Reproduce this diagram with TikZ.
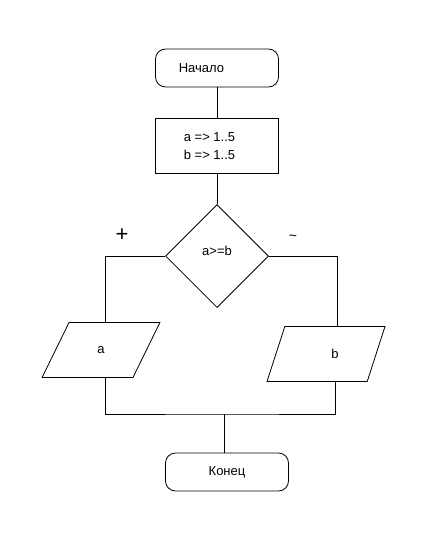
\documentclass[tikz,border=0pt]{standalone}
\usepackage{fontspec}
\setmainfont{Liberation Sans}
\usetikzlibrary{calc,positioning,shapes.geometric}

\begin{document}
\begin{tikzpicture}[
    x=1pt, y=-1pt,
    line width=0.8pt,
    font=\fontsize{13}{18}\selectfont,
    termbox/.style={draw, rounded corners=10pt, minimum width=123pt, minimum height=38pt},
    procbox/.style={draw, align=left, minimum width=123pt, minimum height=55pt},
    condbox/.style={draw, diamond, minimum width=103pt, minimum height=103pt, inner sep=0pt},
    iobox/.style={draw, trapezium, trapezium left angle=67, trapezium right angle=113,
      trapezium stretches=true, minimum width=118pt, minimum height=55pt},
    branchmark/.style={font=\fontsize{22}{22}\selectfont}
  ]
    \useasboundingbox (0,0) rectangle (446,556);
    \node[termbox] (start) at (217,68) {Начало\hspace*{31pt}};
    \node[procbox, below=31pt of start] (init) {a =\textgreater{} 1..5\\b =\textgreater{} 1..5\hspace*{15pt}};
    \node[condbox, below=30pt of init] (cond) {};
    \node (condtext) at ($(cond.center)+(0,-5)$) {a\textgreater=b};
    \node[iobox] (outa) at (101,350) {\raisebox{-4pt}{a}};
    \node[iobox] (outb) at (326,354) {\hspace*{18pt}b};
    \node[termbox] (finish) at (227,472) {Конец};
    \node[branchmark] (plus) at (122,235) {+};
    \node[font=\fontsize{14}{14}\selectfont] (minus) at (293,238) {\textasciitilde};
    \coordinate (merge) at (224,414);
    \draw (start) -- (init);
    \draw (init) -- (cond);
    \draw (cond.west) -| ($(outa.north)+(4,0)$);
    \draw (cond.east) -| ($(outb.north)+(11,0)$);
    \draw ($(outa.south)+(4,0)$) |- (merge) -| ($(outb.south)+(9,0)$);
    \draw (merge) -- (merge |- finish.north);
  \end{tikzpicture}
\end{document}
